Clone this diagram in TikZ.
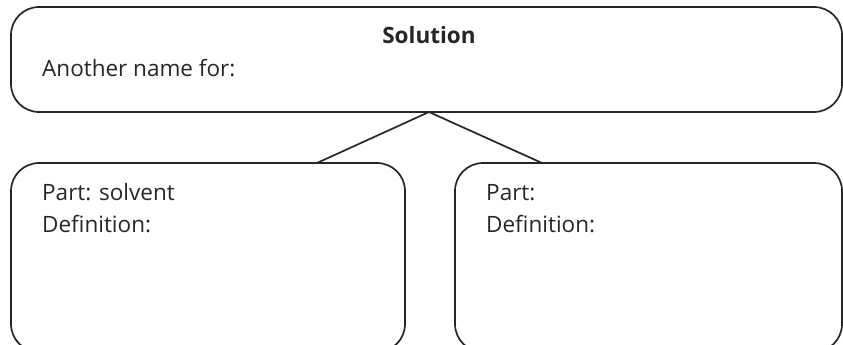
\documentclass[tikz,border=0pt]{standalone}
\usepackage{fontspec}
\setmainfont{Open Sans}
\begin{document}
\begin{tikzpicture}[x=1pt,y=-1pt,
  box/.style={draw=black!85, line width=1.7pt, rounded corners=28pt},
  lbl/.style={inner sep=0pt, anchor=base west, font=\fontsize{22.5}{27}\selectfont, text=black!85},
  ttl/.style={inner sep=0pt, anchor=base, font=\fontsize{22.5}{27}\selectfont\bfseries, text=black!85},
  link/.style={draw=black!85, line width=1.7pt}]
\useasboundingbox (0,0) rectangle (843,345);
\clip (0,0) rectangle (843,345);
\draw[box] (11,7) rectangle (842,112);
\draw[box] (11,163) rectangle (405,352);
\draw[box] (455,163) rectangle (842,352);
\coordinate (apex) at (429,112);
\coordinate (lend) at (317,163);
\coordinate (rend) at (542,163);
\draw[link] (lend) -- (apex) -- (rend);
\node[ttl] (title) at (429,44) {Solution};
\node[lbl] (another) at (42,77) {Another name for:};
\node[lbl] (lpart) at (42,200) {Part: solvent};
\node[lbl] (ldef) at (42,232) {Definition:};
\node[lbl] (rpart) at (486,200) {Part:};
\node[lbl] (rdef) at (486,232) {Definition:};
\end{tikzpicture}
\end{document}
